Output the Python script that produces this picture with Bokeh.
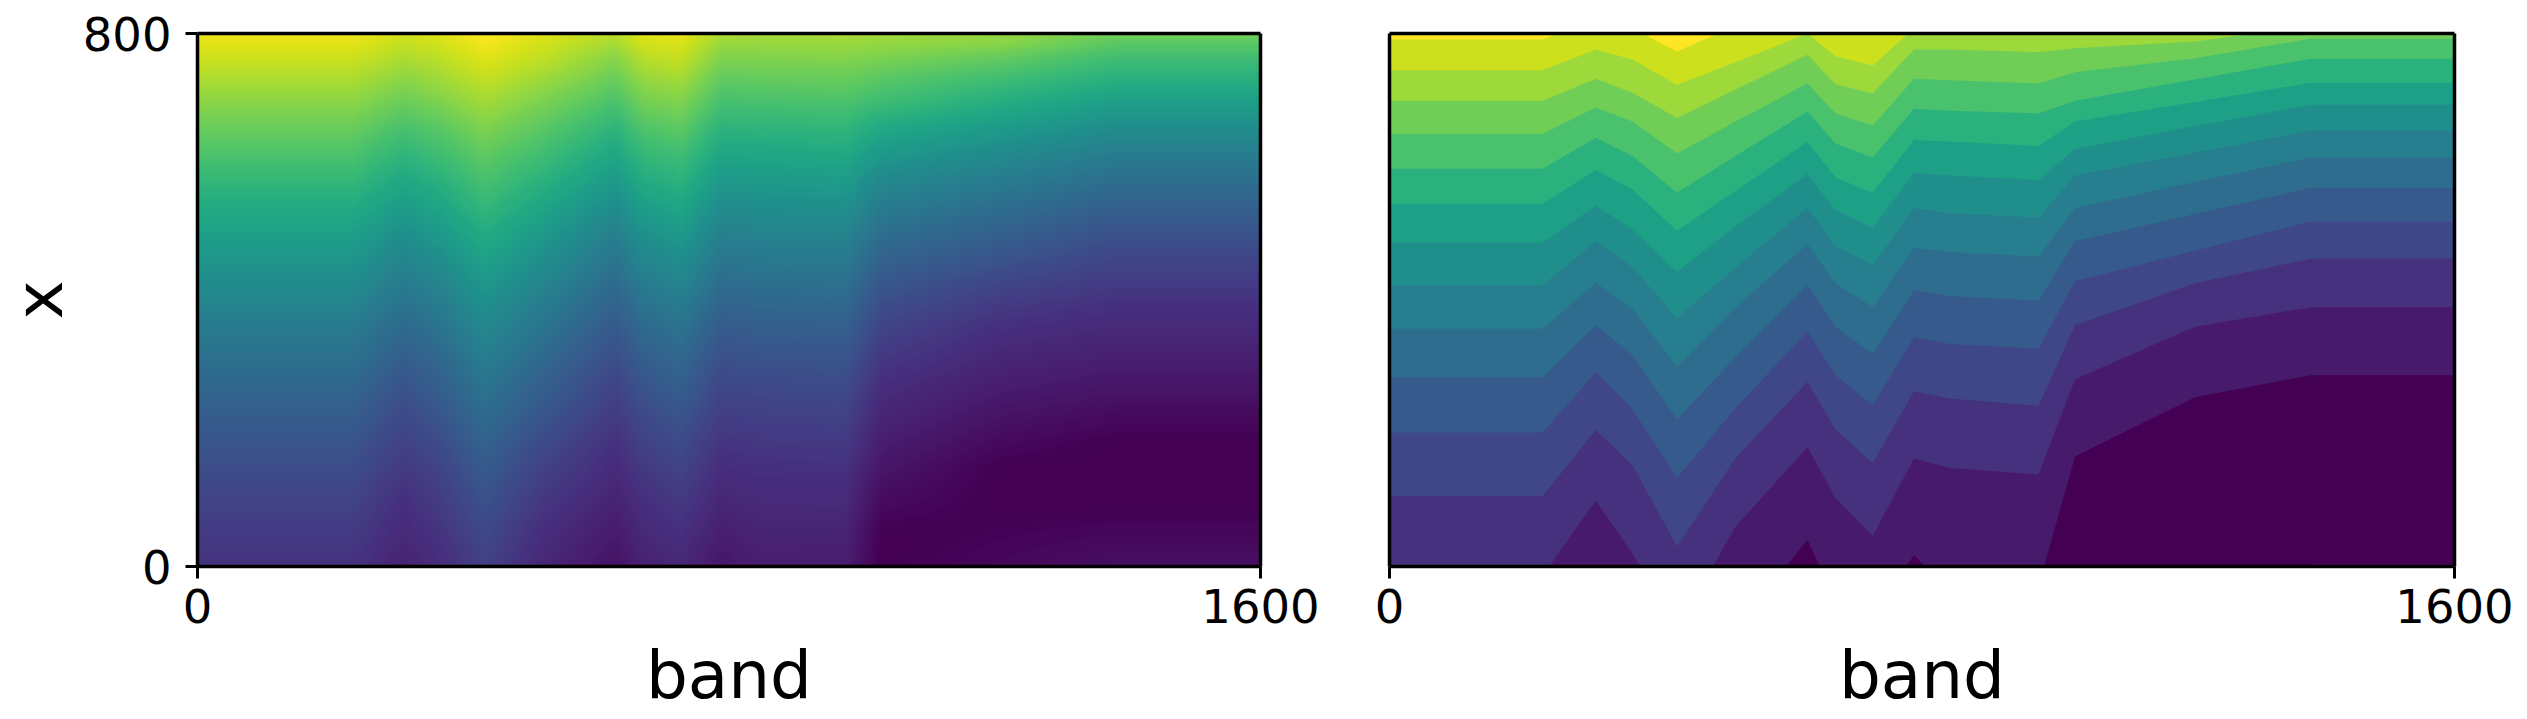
import numpy as np
from bokeh.embed import file_html
from bokeh.layouts import row
from bokeh.models import FixedTicker, Label, LinearAxis, LinearColorMapper, Range1d
from bokeh.palettes import Viridis256, linear_palette
from bokeh.plotting import figure
from bokeh.resources import INLINE

# Height (x, 0-800) where each contour level is crossed, per band column
band_cols = [0, 230, 310, 365, 432, 520, 628, 670, 726, 788, 842, 975, 1030, 1210, 1384, 1600]
level_14 = [791, 791, 822, 808, 773, 811, 857, 805, 799, 857, 857, 851, 862, 878, 911, 911]
level_13 = [745, 745, 776, 761, 723, 757, 800, 766, 752, 808, 819, 816, 824, 840, 878, 878]
level_12 = [699, 699, 732, 711, 673, 716, 768, 724, 710, 776, 776, 772, 778, 788, 811, 811]
level_11 = [649, 649, 689, 668, 620, 668, 725, 680, 662, 732, 730, 725, 742, 763, 792, 792]
level_10 = [597, 597, 643, 616, 561, 616, 683, 635, 614, 687, 684, 680, 699, 731, 762, 762]
level_09 = [544, 544, 595, 566, 504, 564, 637, 584, 561, 640, 638, 631, 668, 697, 726, 726]
level_08 = [486, 486, 542, 506, 442, 511, 589, 535, 508, 591, 587, 580, 627, 661, 693, 693]
level_07 = [422, 422, 488, 449, 373, 449, 538, 481, 452, 538, 530, 524, 587, 621, 654, 654]
level_06 = [357, 357, 426, 387, 300, 389, 484, 425, 389, 478, 472, 465, 538, 577, 614, 614]
level_05 = [284, 284, 362, 317, 221, 314, 422, 360, 319, 415, 406, 399, 488, 529, 568, 568]
level_04 = [201, 201, 291, 236, 133, 238, 353, 287, 242, 344, 334, 327, 428, 474, 518, 518]
level_03 = [106, 106, 205, 152, 30, 163, 277, 206, 155, 263, 252, 241, 362, 425, 462, 462]
level_02 = [-14, -14, 99, 19, -94, 60, 179, 103, 46, 162, 148, 138, 281, 360, 389, 389]
level_01 = [-148, -148, -67, -148, -256, -94, 40, -51, -67, 17, -37, -29, 165, 254, 287, 287]
# slight lift of the field along the bottom edge, right-hand side
bottom_lift = [0, 0, 0, 0, 0, 0, 0, 0, 0, 0, 0, 0, 0, 0.02, 0.04, 0.04]
rim_bands = [1384, 1600]
rim_height = [3, 3]

x_ticks = [0, 1600]
y_ticks = [0, 800]
x_label = "band"
y_label = "x"

levels = [level_01, level_02, level_03, level_04, level_05, level_06, level_07,
          level_08, level_09, level_10, level_11, level_12, level_13, level_14]
colors = linear_palette(Viridis256, 15)
table = np.array(levels, dtype=float)          # rows: level, cols: band column
n_lev = len(levels)
lev_z = np.arange(1, n_lev + 1) / (n_lev + 1)

# raster for the left panel: per column field, then across columns
H = np.linspace(0, 800, 268)
B = np.linspace(0, 1600, 533)
col_field = np.zeros((len(H), len(band_cols)))
for j in range(len(band_cols)):
    h = table[:, j]
    lo = h[0] - (h[1] - h[0]) * lev_z[0] / (lev_z[1] - lev_z[0])
    hi = h[-1] + (h[-1] - h[-2]) * 2
    hs = np.r_[lo, h, hi]
    zs = np.r_[0.0, lev_z, lev_z[-1] + 2 * (lev_z[1] - lev_z[0])]
    f = np.interp(H, hs, zs)
    lift = bottom_lift[j] * np.clip(1 - H / 90, 0, 1)
    col_field[:, j] = np.maximum(f, lift)
field = np.array([np.interp(B, band_cols, col_field[i]) for i in range(len(H))])

LABEL_FONT = "66px"
TICK_FONT = "46.5px"
LINE_W = 3.5


def frame_axis(p, side):
    ax = LinearAxis(ticker=FixedTicker(ticks=[]), axis_line_width=LINE_W,
                    major_tick_line_color=None, minor_tick_line_color=None,
                    major_label_text_font_size="0px")
    p.add_layout(ax, side)


def style(p):
    p.xaxis.ticker = FixedTicker(ticks=x_ticks)
    p.yaxis.ticker = FixedTicker(ticks=y_ticks)
    for ax in (p.xaxis[0], p.yaxis[0]):
        ax.axis_line_width = LINE_W
        ax.major_tick_line_width = 3
        ax.major_tick_in = 0
        ax.major_tick_out = 12
        ax.minor_tick_line_color = None
        ax.major_label_text_font = "DejaVu Sans"
        ax.major_label_text_font_size = TICK_FONT
        ax.major_label_text_color = "black"
        ax.major_label_standoff = 10
        ax.axis_label_text_font = "DejaVu Sans"
        ax.axis_label_text_font_size = LABEL_FONT
        ax.axis_label_text_font_style = "normal"
        ax.axis_label_text_color = "black"
    p.xaxis.major_label_overrides = {t: str(t) for t in x_ticks}
    p.yaxis.major_label_overrides = {t: str(t) for t in y_ticks}
    p.xaxis.axis_label = x_label
    p.xaxis.axis_label_standoff = 11
    p.grid.visible = False
    p.outline_line_color = None
    frame_axis(p, "above")
    frame_axis(p, "right")


common = dict(height=716, y_range=Range1d(0, 800),
              toolbar_location=None, output_backend="svg", min_border_top=33,
              min_border_bottom=149)

# narrow strip carrying the y-axis title
strip = figure(width=78, x_range=Range1d(0, 78), min_border_left=0, min_border_right=0, **common)
strip.axis.visible = False
strip.grid.visible = False
strip.outline_line_color = None
strip.add_layout(Label(x=39, y=400, text=y_label, angle=90, angle_units="deg",
                       text_align="center", text_baseline="middle",
                       text_font="DejaVu Sans", text_font_size=LABEL_FONT, text_color="black"))

left = figure(width=1262, x_range=Range1d(0, 1600), min_border_left=119, min_border_right=80, **common)
left.image(image=[field], x=0, y=0, dw=1600, dh=800,
           color_mapper=LinearColorMapper(palette=Viridis256, low=0, high=float(field.max())))
style(left)
left.yaxis[0].major_label_standoff = 14

right = figure(width=1179, x_range=Range1d(0, 1600), min_border_left=49, min_border_right=65,
               background_fill_color=colors[0], **common)
top_edge = [1200] * len(band_cols)
for k in range(n_lev):
    right.varea(x=band_cols, y1=levels[k], y2=top_edge, fill_color=colors[k + 1])
right.varea(x=rim_bands, y1=[0, 0], y2=rim_height, fill_color=colors[1])
style(right)
right.yaxis.ticker = FixedTicker(ticks=[])
right.yaxis.major_tick_line_color = None
right.yaxis.major_label_text_font_size = "0px"

layout = row(strip, left, right, spacing=0)
open("out.html", "w").write(file_html(layout, INLINE))
